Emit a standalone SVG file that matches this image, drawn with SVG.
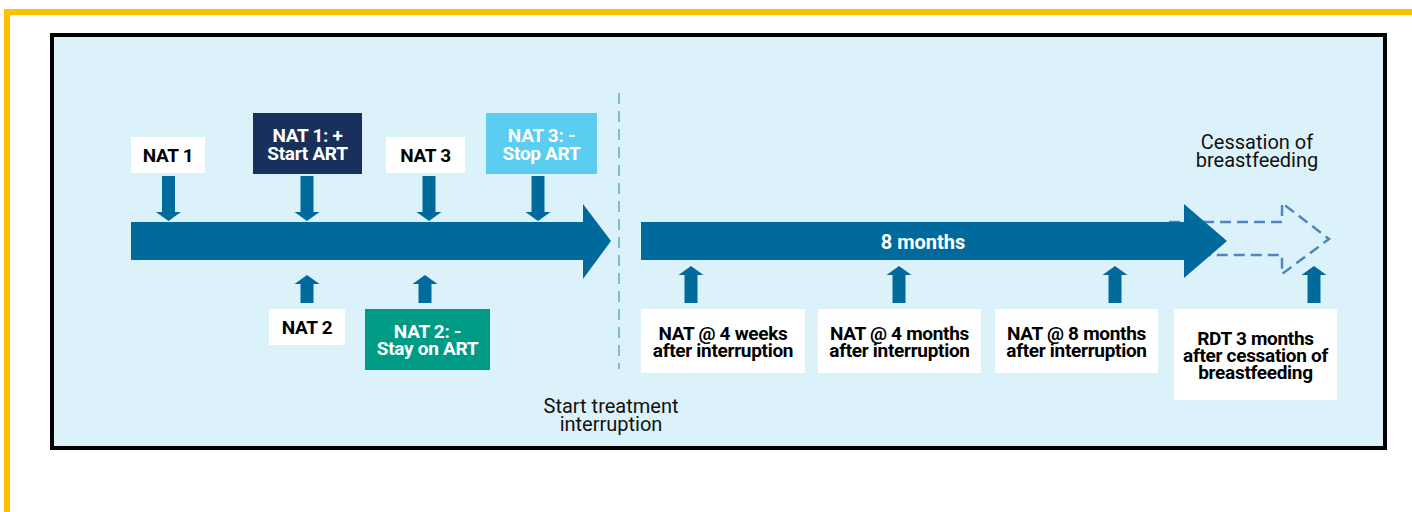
<svg xmlns="http://www.w3.org/2000/svg" width="1412" height="512" viewBox="0 0 1412 512">
<style>
text{font-family:Roboto,"Liberation Sans",sans-serif}
.lbl{font-size:19px;font-weight:700;text-anchor:middle;fill:#000;letter-spacing:-0.3px}
.wl{fill:#fff}
.plain{font-size:20px;font-weight:400;text-anchor:middle;fill:#111}
.arr{fill:#006a9c}
.box{fill:#fff}
</style>
<defs>
<path id="dn" d="M-6.5,0 H6.5 V36 H12.5 L0,45 L-12.5,36 H-6.5 Z"/>
<path id="upS" d="M-6.5,28 H6.5 V9 H12.5 L0,0 L-12.5,9 H-6.5 Z"/>
<path id="upL" d="M-6.5,37 H6.5 V9 H12.5 L0,0 L-12.5,9 H-6.5 Z"/>
</defs>
<rect x="7" y="12" width="1420" height="520" fill="none" stroke="#ffc000" stroke-width="6"/>
<rect x="52" y="35" width="1333" height="413" fill="#dcf2fa" stroke="#000" stroke-width="4"/>

<g id="connectors">
<line x1="619" y1="93" x2="619" y2="369" stroke="#7dbcd6" stroke-width="2" stroke-dasharray="11 7"/>
<path d="M1169,222 L1282,222 L1282,203 L1329,239 L1282,274 L1282,255 L1169,255" fill="none" stroke="#4f86c0" stroke-width="2.5" stroke-dasharray="11 6"/>
<polygon class="arr" points="131,222 583,222 583,204 611,241 583,279 583,260 131,260"/>
<polygon class="arr" points="641,222 1184,222 1184,204 1227,241 1184,278 1184,260 641,260"/>
<use href="#dn" class="arr" x="168.5" y="176"/>
<use href="#dn" class="arr" x="307" y="176"/>
<use href="#dn" class="arr" x="429" y="176"/>
<use href="#dn" class="arr" x="538" y="176"/>
<use href="#upS" class="arr" x="307" y="275"/>
<use href="#upS" class="arr" x="425" y="275"/>
<use href="#upL" class="arr" x="691" y="266"/>
<use href="#upL" class="arr" x="899" y="266"/>
<use href="#upL" class="arr" x="1115" y="266"/>
<use href="#upL" class="arr" x="1314" y="266"/>
</g>

<g id="eight-months"><text x="923" y="249" font-size="20" font-weight="700" fill="#fff" text-anchor="middle">8 months</text></g>

<g id="nat1"><rect class="box" x="131" y="137" width="74" height="36"/><text class="lbl" x="168" y="162">NAT 1</text></g>
<g id="nat1pos"><rect x="253" y="113" width="109" height="61" fill="#17305c"/><text class="lbl wl" x="307.5"><tspan x="307.5" y="142">NAT 1: +</tspan><tspan x="307.5" y="159.5">Start ART</tspan></text></g>
<g id="nat3"><rect class="box" x="386" y="137" width="79" height="36"/><text class="lbl" x="425.5" y="162">NAT 3</text></g>
<g id="nat3neg"><rect x="486" y="113" width="111" height="61" fill="#5bcdf0"/><text class="lbl wl"><tspan x="541.5" y="142">NAT 3: -</tspan><tspan x="541.5" y="159.5">Stop ART</tspan></text></g>
<g id="nat2"><rect class="box" x="269" y="309" width="76" height="36"/><text class="lbl" x="307" y="334">NAT 2</text></g>
<g id="nat2neg"><rect x="365" y="309" width="125" height="61" fill="#009b84"/><text class="lbl wl"><tspan x="427.5" y="337.5">NAT 2: -</tspan><tspan x="427.5" y="355">Stay on ART</tspan></text></g>

<g id="nat4w"><rect class="box" x="641" y="309" width="164" height="64"/><text class="lbl"><tspan x="723" y="339.5">NAT @ 4 weeks</tspan><tspan x="723" y="356.5">after interruption</tspan></text></g>
<g id="nat4m"><rect class="box" x="818" y="309" width="163" height="64"/><text class="lbl"><tspan x="899.5" y="339.5">NAT @ 4 months</tspan><tspan x="899.5" y="356.5">after interruption</tspan></text></g>
<g id="nat8m"><rect class="box" x="995" y="309" width="163" height="64"/><text class="lbl"><tspan x="1076.5" y="339.5">NAT @ 8 months</tspan><tspan x="1076.5" y="356.5">after interruption</tspan></text></g>
<g id="rdt"><rect class="box" x="1174" y="309" width="163" height="91"/><text class="lbl"><tspan x="1255.5" y="345">RDT 3 months</tspan><tspan x="1255.5" y="362">after cessation of</tspan><tspan x="1255.5" y="379">breastfeeding</tspan></text></g>

<g id="start-interruption"><text class="plain"><tspan x="611" y="413">Start treatment</tspan><tspan x="611" y="430.5">interruption</tspan></text></g>
<g id="cessation"><text class="plain"><tspan x="1257" y="149">Cessation of</tspan><tspan x="1257" y="166.5">breastfeeding</tspan></text></g>
</svg>
